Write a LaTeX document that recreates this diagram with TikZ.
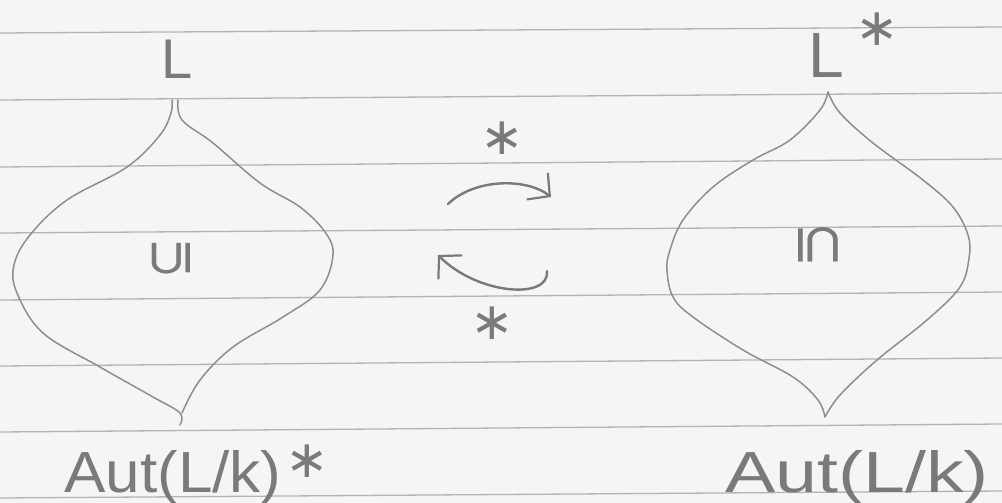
\documentclass[tikz,border=0pt]{standalone}
\usepackage{fontspec}
\usepackage{graphicx}
\setmainfont{Liberation Sans}
\newfontfamily\dejavu{DejaVu Sans}
\usetikzlibrary{arrows.meta}
\definecolor{paper}{HTML}{F5F5F5}
\definecolor{ruling}{HTML}{B4B4B4}
\definecolor{ink}{HTML}{8E8E8E}
\definecolor{inkdark}{HTML}{7A7A7A}
\begin{document}
\begin{tikzpicture}[x=0.5pt,y=-0.5pt,
  rulestyle/.style={ruling, line width=0.65pt},
  lens/.style={ink, line width=0.75pt, line cap=round, line join=round},
  lbl/.style={inkdark, inner sep=0pt, anchor=base},
  ast/.style={inkdark, inner sep=0pt, anchor=north, font=\dejavu\fontsize{26}{26}\selectfont},
  incl/.style={inkdark, inner sep=0pt},
  swaparrow/.style={inkdark, line width=1.2pt, line cap=round, -{Straight Barb[length=8pt,width=17pt,line width=1.1pt]}}]
\fill[paper] (0,0) rectangle (1002,503);
\useasboundingbox (0,0) rectangle (1002,503);
% ruled paper
\foreach \a/\b in {33/27,100/93,167/159,233/226,300/292,366/358,432/424,498/491}
  \draw[rulestyle] (0,\a) -- (1002,\b);
% left lens
\draw[lens] plot[smooth,tension=0.6] coordinates {(172,100) (171,113) (160,135) (127,167) (67,200) (30,235) (14,265) (17,293) (43,333) (100,367) (153,397) (180,413) (180,425)};
\draw[lens] plot[smooth,tension=0.6] coordinates {(178,100) (182,120) (213,143) (260,183) (300,207) (325,232) (333,255) (320,290) (283,317) (233,347) (200,380) (182,413)};
% right lens
\draw[lens] plot[smooth,tension=0.6] coordinates {(828,92) (820,110) (790,140) (753,160) (713,187) (683,220) (670,250) (667,270) (673,297) (693,317) (743,350) (793,377) (818,400) (825,417)};
\draw[lens] plot[smooth,tension=0.6] coordinates {(828,92) (840,113) (873,143) (923,180) (953,207) (968,235) (969,258) (960,287) (927,320) (877,360) (840,395) (825,417)};
% labels
\node[lbl, font=\fontsize{28}{28}\selectfont] (Ltop) at (177,78) {L};
\node[lbl, font=\fontsize{32}{32}\selectfont] (Lstar) at (826,77) {L};
\node[ast] (starLs) at (877,12) {∗};
\node[incl, rotate=90, font=\dejavu\fontsize{24}{24}\selectfont] (subL) at (171,258) {\scalebox{1}[1.3]{⊆}};
\node[incl, rotate=-90, font=\dejavu\fontsize{27}{27}\selectfont] (subR) at (818,245) {\scalebox{1}[1.2]{⊆}};
\node[lbl, font=\fontsize{29}{29}\selectfont] (autL) at (173,492) {\scalebox{1.07}[1]{Aut(L/k)}};
\node[ast] (starA) at (307,444) {∗};
\node[lbl, font=\fontsize{29}{29}\selectfont] (autR) at (857,492) {\scalebox{1.3}[1]{Aut(L/k)}};
% middle
\node[ast] (starTop) at (502,121) {∗};
\node[ast] (starBot) at (492,306) {∗};
\coordinate (a1s) at (448,204);
\coordinate (a1e) at (551,197);
\coordinate (a2s) at (547,271);
\coordinate (a2e) at (438,255);
\draw[swaparrow] (a1s) .. controls (475,178) and (527,178) .. (a1e);
\draw[swaparrow] (a2s) .. controls (550,300) and (478,295) .. (a2e);
\end{tikzpicture}
\end{document}
